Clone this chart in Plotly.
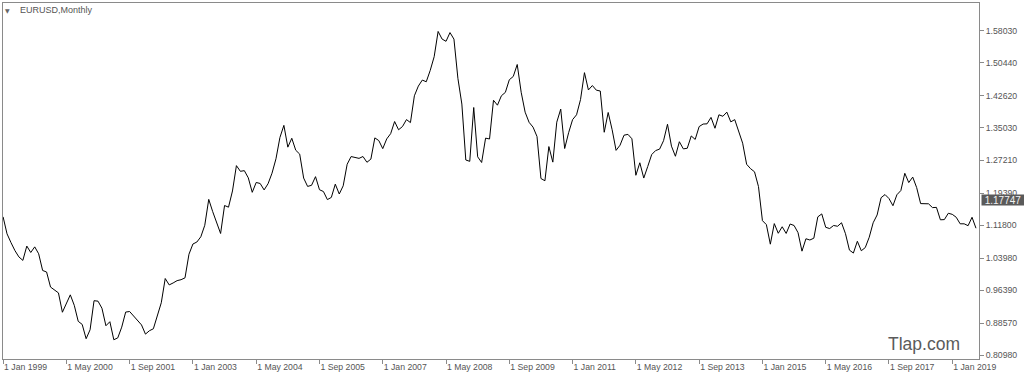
import pandas as pd
import plotly.graph_objects as go

# ---- data (monthly closes, Jan 1999 .. Jul 2019) ----
start_month = "1999-01-01"
closes = [
    # 1999
    1.1380, 1.0977, 1.0768, 1.0578, 1.0428, 1.0346, 1.0686, 1.0534, 1.0667, 1.0503, 1.0106, 1.0070,
    # 2000
    0.9712, 0.9651, 0.9574, 0.9114, 0.9339, 0.9527, 0.9278, 0.8898, 0.8825, 0.8485, 0.8698, 0.9388,
    # 2001
    0.9377, 0.9209, 0.8793, 0.8889, 0.8460, 0.8505, 0.8760, 0.9118, 0.9131, 0.9029, 0.8901, 0.8813,
    # 2002
    0.8594, 0.8675, 0.8721, 0.9012, 0.9339, 0.9915, 0.9763, 0.9810, 0.9865, 0.9887, 0.9931, 1.0492,
    # 2003
    1.0735, 1.0782, 1.0907, 1.1180, 1.1795, 1.1504, 1.1239, 1.0985, 1.1650, 1.1610, 1.1995, 1.2597,
    # 2004
    1.2462, 1.2478, 1.2307, 1.1963, 1.2197, 1.2173, 1.2020, 1.2167, 1.2417, 1.2760, 1.3265, 1.3554,
    # 2005
    1.3036, 1.3247, 1.2963, 1.2871, 1.2302, 1.2103, 1.2130, 1.2335, 1.2025, 1.1982, 1.1790, 1.1842,
    # 2006
    1.2157, 1.1923, 1.2118, 1.2630, 1.2813, 1.2792, 1.2770, 1.2814, 1.2677, 1.2752, 1.3256, 1.3192,
    # 2007
    1.3001, 1.3232, 1.3357, 1.3645, 1.3449, 1.3527, 1.3691, 1.3620, 1.4257, 1.4487, 1.4630, 1.4590,
    # 2008
    1.4859, 1.5185, 1.5785, 1.5604, 1.5551, 1.5758, 1.5603, 1.4671, 1.4060, 1.2731, 1.2699, 1.3978,
    # 2009
    1.2807, 1.2672, 1.3250, 1.3230, 1.4150, 1.4033, 1.4257, 1.4338, 1.4637, 1.4716, 1.5000, 1.4340,
    # 2010
    1.3867, 1.3626, 1.3512, 1.3289, 1.2291, 1.2238, 1.3050, 1.2680, 1.3630, 1.3940, 1.3004, 1.3380,
    # 2011
    1.3690, 1.3805, 1.4165, 1.4806, 1.4395, 1.4500, 1.4390, 1.4370, 1.3390, 1.3860, 1.3450, 1.2960,
    # 2012
    1.3083, 1.3320, 1.3340, 1.3235, 1.2368, 1.2665, 1.2302, 1.2576, 1.2860, 1.2955, 1.2990, 1.3190,
    # 2013
    1.3580, 1.3060, 1.2820, 1.3165, 1.2995, 1.3010, 1.3302, 1.3220, 1.3525, 1.3585, 1.3590, 1.3743,
    # 2014
    1.3485, 1.3805, 1.3770, 1.3868, 1.3637, 1.3690, 1.3390, 1.3130, 1.2630, 1.2525, 1.2450, 1.2100,
    # 2015
    1.1290, 1.1195, 1.0731, 1.1220, 1.0990, 1.1145, 1.0986, 1.1210, 1.1175, 1.1005, 1.0565, 1.0860,
    # 2016
    1.0830, 1.0873, 1.1380, 1.1450, 1.1132, 1.1102, 1.1175, 1.1157, 1.1240, 1.0980, 1.0590, 1.0520,
    # 2017
    1.0800, 1.0575, 1.0650, 1.0895, 1.1240, 1.1425, 1.1835, 1.1910, 1.1815, 1.1645, 1.1905, 1.2005,
    # 2018
    1.2415, 1.2195, 1.2325, 1.2075, 1.1695, 1.1685, 1.1690, 1.1600, 1.1605, 1.1310, 1.1315, 1.1465,
    # 2019
    1.1440, 1.1370, 1.1215, 1.1215, 1.1170, 1.1370, 1.1110,
]
months = pd.date_range(start_month, periods=len(closes), freq="MS")
bar_index = list(range(len(closes)))

x_tick_step = 16
x_tick_index = bar_index[::x_tick_step]
x_tick_text = ["1 " + months[i].strftime("%b %Y") for i in x_tick_index]

y_tick_values = [0.80980, 0.88570, 0.96390, 1.03980, 1.11800, 1.19390,
                 1.27210, 1.35030, 1.42620, 1.50440, 1.58030]
current_price = 1.17747
title_text = "EURUSD,Monthly"
watermark_text = "Tlap.com"

FONT = "Liberation Sans, Arial, sans-serif"
TXT = "#555555"
FRAME = "#8a8a8a"

fig = go.Figure()
fig.add_trace(go.Scatter(
    x=bar_index, y=closes, mode="lines",
    line=dict(color="#000000", width=1),
    hoverinfo="skip",
))

fig.update_layout(
    width=1024, height=380,
    margin=dict(l=3, r=45, t=3, b=21, pad=0),
    paper_bgcolor="white", plot_bgcolor="white",
    showlegend=False,
    font=dict(family=FONT, size=8.7, color=TXT),
)

fig.update_xaxes(
    range=[-0.02, 246.76],
    tickmode="array", tickvals=x_tick_index, ticktext=x_tick_text,
    ticks="outside", ticklen=4, tickcolor=FRAME, tickwidth=1,
    ticklabelposition="outside right",
    showgrid=False, zeroline=False,
    showline=True, mirror=True, linecolor=FRAME, linewidth=1,
    tickfont=dict(family=FONT, size=8.7, color=TXT),
    automargin=False, fixedrange=True,
)
fig.update_yaxes(
    side="right",
    range=[0.80030, 1.64610],
    tickmode="array", tickvals=y_tick_values, tickformat=".5f",
    ticks="outside", ticklen=4, tickcolor=FRAME, tickwidth=1,
    showgrid=False, zeroline=False,
    showline=True, mirror=True, linecolor=FRAME, linewidth=1,
    tickfont=dict(family=FONT, size=8.7, color=TXT),
    automargin=False, fixedrange=True,
)

# title with dropdown triangle
fig.add_annotation(
    xref="paper", yref="paper", x=0.0154, y=0.980,
    text=title_text, showarrow=False, xanchor="left", yanchor="middle",
    font=dict(family=FONT, size=9, color=TXT),
)
fig.add_annotation(
    xref="paper", yref="paper", x=0.0051, y=0.980,
    text="▼", showarrow=False, xanchor="center", yanchor="middle",
    font=dict(family="DejaVu Sans", size=6, color="#666666"),
)

# current price label
fig.add_annotation(
    xref="paper", yref="y", x=1, xshift=2, y=current_price,
    text=f"{current_price:.5f}", showarrow=False,
    xanchor="left", yanchor="middle",
    bgcolor="#5a5a5a", borderpad=0, width=42, height=10,
    font=dict(family=FONT, size=10, color="#f2f2f2"),
)

# watermark
fig.add_annotation(
    xref="paper", yref="paper", x=0.944, y=0.043,
    text=watermark_text, showarrow=False, xanchor="center", yanchor="middle",
    font=dict(family=FONT, size=17.5, color="#5b5b5b"),
)

fig.write_html("out.html", config={"displayModeBar": False})
